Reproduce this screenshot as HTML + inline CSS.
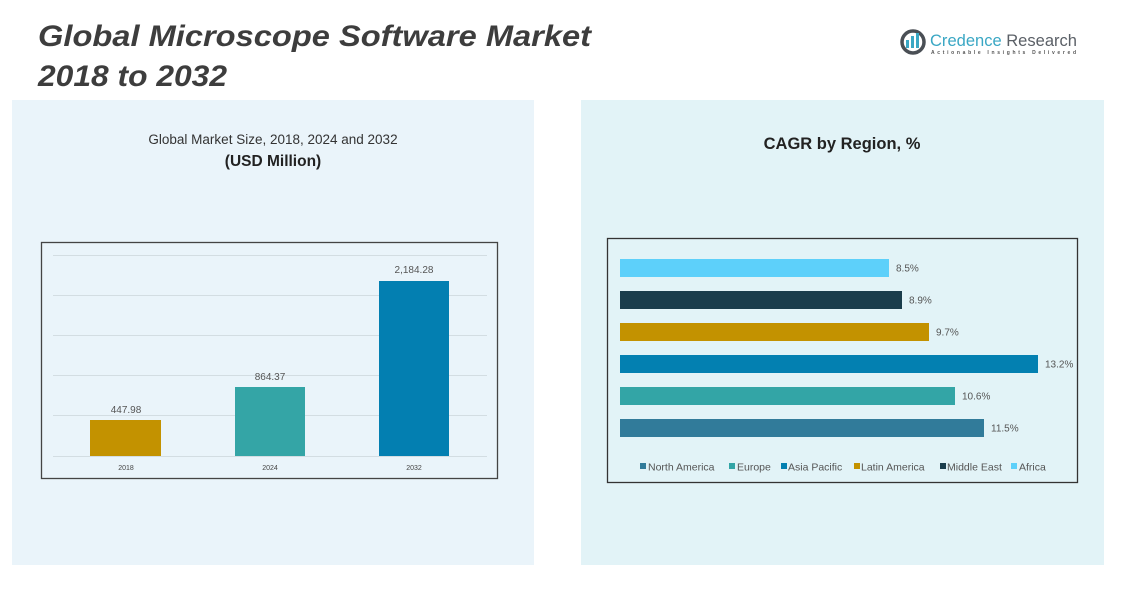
<!DOCTYPE html>
<html>
<head>
<meta charset="utf-8">
<style>
  html, body { margin:0; padding:0; background:#ffffff; }
  body { width:1133px; height:590px; overflow:hidden; font-family:"Liberation Sans", sans-serif; }
  svg { display:block; }
</style>
</head>
<body>
<svg width="1133" height="590" viewBox="0 0 1133 590" xmlns="http://www.w3.org/2000/svg" font-family="Liberation Sans, sans-serif">
  <rect x="0" y="0" width="1133" height="590" fill="#ffffff"/>

  <!-- panels -->
  <rect x="12" y="100" width="522" height="465" fill="#eaf4fa"/>
  <rect x="581" y="100" width="523" height="465" fill="#e2f3f7"/>

  <!-- title -->
  <text x="38" y="46" font-size="30" font-weight="bold" font-style="italic" fill="#3d3d3d" textLength="553" lengthAdjust="spacingAndGlyphs">Global Microscope Software Market</text>
  <text x="38" y="86" font-size="30" font-weight="bold" font-style="italic" fill="#3d3d3d" textLength="189" lengthAdjust="spacingAndGlyphs">2018 to 2032</text>

  <!-- logo -->
  <g>
    <circle cx="913" cy="42" r="11" fill="none" stroke="#4a4f55" stroke-width="3.5"/>
    <rect x="906" y="40" width="3" height="8" fill="#3aa7c4"/>
    <rect x="911" y="36" width="3" height="12" fill="#3aa7c4"/>
    <rect x="916" y="33" width="3" height="15" fill="#3aa7c4"/>
    <text x="930" y="46" font-size="17" fill="#3aa7c4" textLength="147" lengthAdjust="spacingAndGlyphs">Credence <tspan fill="#5a5f66">Research</tspan></text>
    <text x="931" y="54" font-size="5" font-weight="bold" fill="#555" textLength="145" lengthAdjust="spacing">Actionable Insights Delivered</text>
  </g>

  <!-- left chart titles -->
  <text x="273" y="144" font-size="13.5" fill="#333" text-anchor="middle">Global Market Size, 2018, 2024 and 2032</text>
  <text x="273" y="166" font-size="15.5" font-weight="bold" fill="#222" text-anchor="middle">(USD Million)</text>

  <!-- left chart -->
  <rect x="41.5" y="242.5" width="456" height="236" fill="none" stroke="#444" stroke-width="1.3"/>
  <g stroke="#d3dde2" stroke-width="1">
    <line x1="53" y1="255.5" x2="487" y2="255.5"/>
    <line x1="53" y1="295.5" x2="487" y2="295.5"/>
    <line x1="53" y1="335.5" x2="487" y2="335.5"/>
    <line x1="53" y1="375.5" x2="487" y2="375.5"/>
    <line x1="53" y1="415.5" x2="487" y2="415.5"/>
    <line x1="53" y1="456.5" x2="487" y2="456.5"/>
  </g>
  <rect x="90" y="420" width="71" height="36" fill="#c39200"/>
  <rect x="235" y="387" width="70" height="69" fill="#34a5a6"/>
  <rect x="379" y="281" width="70" height="175" fill="#037fb1"/>
  <g font-size="10" fill="#555" text-anchor="middle">
    <text x="126" y="413">447.98</text>
    <text x="270" y="380">864.37</text>
    <text x="414" y="273">2,184.28</text>
  </g>
  <g font-size="7" fill="#444" text-anchor="middle">
    <text x="126" y="470">2018</text>
    <text x="270" y="470">2024</text>
    <text x="414" y="470">2032</text>
  </g>

  <!-- right chart title -->
  <text x="842" y="149" font-size="16.5" font-weight="bold" fill="#222" text-anchor="middle">CAGR by Region, %</text>

  <!-- right chart -->
  <rect x="607.5" y="238.5" width="470" height="244" fill="none" stroke="#333" stroke-width="1.3"/>
  <rect x="620" y="259" width="269" height="18" fill="#5dd0fa"/>
  <rect x="620" y="291" width="282" height="18" fill="#1a3d4c"/>
  <rect x="620" y="323" width="309" height="18" fill="#c39200"/>
  <rect x="620" y="355" width="418" height="18" fill="#0380b1"/>
  <rect x="620" y="387" width="335" height="18" fill="#33a5a6"/>
  <rect x="620" y="419" width="364" height="18" fill="#317b9a"/>
  <g font-size="10" fill="#555">
    <text x="896" y="271.5">8.5%</text>
    <text x="909" y="303.5">8.9%</text>
    <text x="936" y="335.5">9.7%</text>
    <text x="1045" y="367.5">13.2%</text>
    <text x="962" y="399.5">10.6%</text>
    <text x="991" y="431.5">11.5%</text>
  </g>

  <!-- legend -->
  <g font-size="10.5" fill="#555">
    <rect x="640" y="463" width="6" height="6" fill="#317b9a"/>
    <text x="648" y="470.5">North America</text>
    <rect x="729" y="463" width="6" height="6" fill="#33a5a6"/>
    <text x="737" y="470.5">Europe</text>
    <rect x="781" y="463" width="6" height="6" fill="#0380b1"/>
    <text x="788" y="470.5">Asia Pacific</text>
    <rect x="854" y="463" width="6" height="6" fill="#c39200"/>
    <text x="861" y="470.5">Latin America</text>
    <rect x="940" y="463" width="6" height="6" fill="#1a3d4c"/>
    <text x="947" y="470.5">Middle East</text>
    <rect x="1011" y="463" width="6" height="6" fill="#5dd0fa"/>
    <text x="1019" y="470.5">Africa</text>
  </g>
</svg>
</body>
</html>
